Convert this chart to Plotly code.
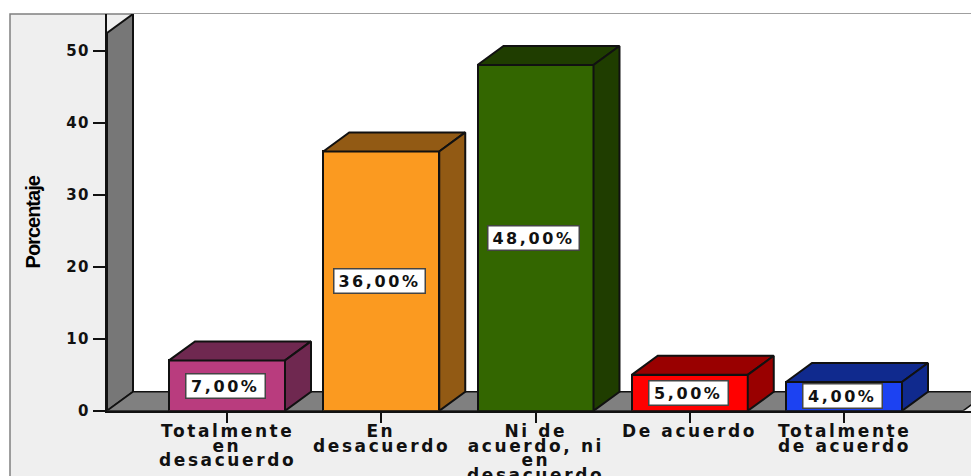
import plotly.graph_objects as go

categories = [
    ["Totalmente", "en", "desacuerdo"],
    ["En", "desacuerdo"],
    ["Ni de", "acuerdo, ni", "en", "desacuerdo"],
    ["De acuerdo"],
    ["Totalmente", "de acuerdo"],
]
values = [7, 36, 48, 5, 4]
y_ticks = [0, 10, 20, 30, 40, 50]
front_colors = ["#B93C7E", "#FB9A20", "#336600", "#FF0000", "#1C42F2"]
depth_colors = ["#6F2850", "#925A14", "#1F3D00", "#990000", "#102A8E"]

W, H = 971, 476
PLOT_H = 462
PX_PER_CAT = 154.25
PX_PER_UNIT = 7.19
CENTER0 = 227
BAR_W = 116 / PX_PER_CAT
DX = 26 / PX_PER_CAT
DY = 19 / PX_PER_UNIT
X_MIN = (107 - CENTER0) / PX_PER_CAT
X_MAX = (971 - CENTER0) / PX_PER_CAT
X_FLOOR_END = (963 - CENTER0) / PX_PER_CAT
Y_MAX = 396 / PX_PER_UNIT
EDGE = "#111111"
FONT = "DejaVu Sans"


def paper_y(px):
    return 1 - (px - 14) / PLOT_H


idx = list(range(len(values)))
fig = go.Figure()
fig.add_bar(x=idx, y=values, width=BAR_W, marker=dict(color=front_colors, line=dict(color=EDGE, width=2)),
            hoverinfo="skip", showlegend=False)

for i, v, c in zip(idx, values, depth_colors):
    l, r = i - BAR_W / 2, i + BAR_W / 2
    fig.add_scatter(x=[l, r, r + DX, l + DX, l], y=[v, v, v + DY, v + DY, v], mode="lines", fill="toself",
                    fillcolor=c, line=dict(color=EDGE, width=2), hoverinfo="skip", showlegend=False)
    fig.add_scatter(x=[r, r + DX, r + DX, r, r], y=[0, DY, v + DY, v, 0], mode="lines", fill="toself",
                    fillcolor=c, line=dict(color=EDGE, width=2), hoverinfo="skip", showlegend=False)

shapes = [
    dict(type="rect", xref="paper", yref="paper", x0=10 / W, x1=1.01, y0=-0.05, y1=1, layer="below",
         fillcolor="#EFEFEF", line=dict(color="#808080", width=1.5)),
    dict(type="path", layer="below", fillcolor="#FFFFFF", line=dict(width=0),
         path=f"M{X_MIN + DX},{DY} L{X_MAX},{DY} L{X_MAX},{Y_MAX} L{X_MIN + DX},{Y_MAX} Z"),
    dict(type="path", layer="below", fillcolor="#777777", line=dict(color=EDGE, width=2),
         path=f"M{X_MIN},0 L{X_MIN + DX},{DY} L{X_MIN + DX},{Y_MAX} L{X_MIN},{Y_MAX - DY} Z"),
    dict(type="path", layer="below", fillcolor="#808080", line=dict(color=EDGE, width=1.5),
         path=f"M{X_MIN},0 L{X_MIN + DX},{DY} L{X_FLOOR_END + DX},{DY} L{X_FLOOR_END},0 Z"),
]

annotations = []
for i, v in zip(idx, values):
    text = f"{v:.2f}".replace(".", ",") + "%"
    annotations.append(dict(x=i - 0.01, y=v / 2, text=f"<b>{text}</b>", showarrow=False, bgcolor="#FFFFFF",
                            bordercolor="#444444", borderwidth=1.5, width=12.5 * len(text) + 13, height=21,
                            font=dict(family=FONT, size=16, color="#111111")))
LINE_START = 430
LINE_STEP = 14.7
for i, lines in zip(idx, categories):
    for n, line in enumerate(lines):
        annotations.append(dict(x=i, yref="paper", y=paper_y(LINE_START + n * LINE_STEP), yanchor="middle",
                                text=f"<b>{line}</b>", showarrow=False,
                                font=dict(family=FONT, size=17, color="#111111")))
annotations.append(dict(xref="paper", yref="paper", x=33 / W, y=paper_y(222), xanchor="center", yanchor="middle",
                        text="<b>Porcentaje</b>", textangle=-90, showarrow=False,
                        font=dict(family="Liberation Sans", size=20, color="#000000")))

fig.update_layout(
    width=W, height=H + 10, autosize=False, margin=dict(l=0, r=0, t=14, b=0),
    paper_bgcolor="#FFFFFF", plot_bgcolor="rgba(0,0,0,0)", showlegend=False, bargap=0,
    shapes=shapes, annotations=annotations,
    xaxis=dict(domain=[107 / W, 1], range=[X_MIN, X_MAX], tickmode="array", tickvals=idx, ticktext=[""] * len(idx),
               ticks="outside", ticklen=10, tickwidth=2, tickcolor=EDGE, showgrid=False, zeroline=False,
               showline=True, linecolor=EDGE, linewidth=2),
    yaxis=dict(domain=[66 / PLOT_H, 1], range=[0, Y_MAX], tickmode="array", tickvals=y_ticks, ticks="outside",
               ticklen=12, tickwidth=2, tickcolor=EDGE, showgrid=False, zeroline=False, showline=True,
               linecolor=EDGE, linewidth=2, tickfont=dict(family=FONT, size=15, color="#111111", weight="bold")),
)
title_index = len(annotations) - 1
page_style = """
document.body.style.margin = '0';
document.body.style.overflow = 'hidden';
var s = document.createElement('style');
s.textContent = '.annotation-text{letter-spacing:2.6px}'
  + '.annotation[data-index="%d"] .annotation-text{letter-spacing:-1px}'
  + '.ytick text{letter-spacing:1.5px}';
document.head.appendChild(s);
""" % title_index
fig.write_html("out.html", post_script=page_style, config={"displayModeBar": False})
